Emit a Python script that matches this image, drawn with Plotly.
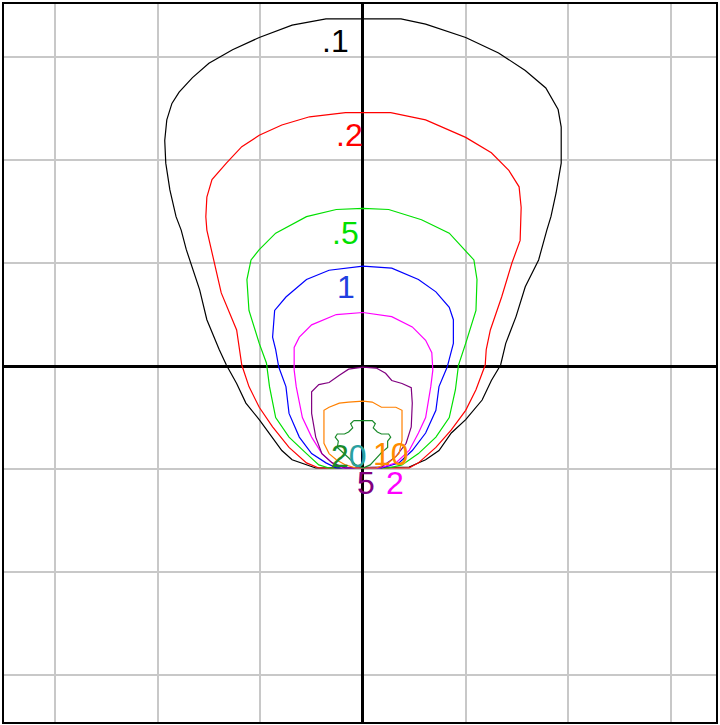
import plotly.graph_objects as go

# Contour levels, colours and label positions
levels = [".1", ".2", ".5", "1", "2", "5", "10", "20"]
colors = ["#000000", "#ff0000", "#00e000", "#0000ff", "#ff00ff", "#800080", "#ff8000", "#1a8a2a"]

c01_x = [-0.46, -0.55, -0.69, -0.79, -0.91, -1.01, -1.14, -1.23, -1.33, -1.40, -1.52, -1.59, -1.72, -1.77, -1.82, -1.88, -1.92, -1.93, -1.91, -1.86, -1.79, -1.66, -1.50, -1.27, -1.01, -0.69, -0.36, 0.37, 0.61, 1.00, 1.32, 1.58, 1.78, 1.90, 1.93, 1.93, 1.88, 1.83, 1.79, 1.71, 1.58, 1.49, 1.39, 1.34, 1.25, 1.16, 1.00, 0.86, 0.74, 0.61, 0.45, -0.46]
c01_y = [-0.99, -0.96, -0.91, -0.82, -0.65, -0.52, -0.36, -0.17, 0.01, 0.16, 0.45, 0.74, 1.13, 1.32, 1.45, 1.71, 1.97, 2.19, 2.39, 2.55, 2.66, 2.80, 2.94, 3.07, 3.19, 3.31, 3.37, 3.37, 3.32, 3.19, 3.04, 2.87, 2.70, 2.49, 2.32, 1.97, 1.68, 1.45, 1.32, 1.03, 0.77, 0.48, 0.22, 0.01, -0.14, -0.33, -0.52, -0.65, -0.82, -0.91, -0.98, -0.99]

c02_x = [-0.43, -0.55, -0.72, -0.88, -1.01, -1.11, -1.18, -1.20, -1.23, -1.38, -1.48, -1.52, -1.53, -1.52, -1.47, -1.33, -1.18, -1.01, -0.79, -0.52, -0.17, 0.27, 0.61, 1.00, 1.25, 1.42, 1.52, 1.54, 1.53, 1.45, 1.35, 1.24, 1.20, 1.19, 1.10, 1.00, 0.86, 0.71, 0.54, 0.45, -0.43]
c02_y = [-0.99, -0.94, -0.79, -0.59, -0.40, -0.20, 0.01, 0.16, 0.35, 0.71, 1.13, 1.32, 1.45, 1.64, 1.81, 1.97, 2.13, 2.24, 2.34, 2.42, 2.46, 2.46, 2.39, 2.22, 2.07, 1.90, 1.74, 1.54, 1.22, 1.00, 0.67, 0.35, 0.16, 0.01, -0.23, -0.43, -0.62, -0.79, -0.94, -0.99, -0.99]

c05_x = [-0.33, -0.43, -0.55, -0.72, -0.85, -0.91, -0.94, -1.01, -1.11, -1.13, -1.09, -1.01, -0.85, -0.55, -0.26, 0.00, 0.25, 0.57, 0.84, 0.93, 1.08, 1.11, 1.10, 1.00, 0.93, 0.90, 0.84, 0.71, 0.54, 0.38, 0.25, -0.33]
c05_y = [-0.99, -0.96, -0.85, -0.69, -0.50, -0.20, 0.03, 0.22, 0.54, 0.84, 1.03, 1.13, 1.29, 1.45, 1.52, 1.53, 1.52, 1.42, 1.29, 1.19, 1.03, 0.84, 0.54, 0.22, 0.01, -0.23, -0.50, -0.69, -0.85, -0.96, -0.99, -0.99]

c1_x = [-0.26, -0.36, -0.50, -0.62, -0.72, -0.75, -0.82, -0.85, -0.88, -0.86, -0.75, -0.55, -0.33, 0.00, 0.28, 0.54, 0.71, 0.84, 0.88, 0.88, 0.82, 0.74, 0.71, 0.61, 0.48, 0.35, 0.18, -0.26]
c1_y = [-0.99, -0.94, -0.85, -0.69, -0.46, -0.20, -0.01, 0.16, 0.28, 0.54, 0.67, 0.84, 0.93, 0.97, 0.95, 0.84, 0.72, 0.57, 0.45, 0.22, -0.01, -0.20, -0.43, -0.65, -0.82, -0.94, -0.99, -0.99]

c2_x = [-0.20, -0.30, -0.40, -0.50, -0.59, -0.65, -0.67, -0.67, -0.62, -0.50, -0.26, 0.00, 0.28, 0.48, 0.61, 0.67, 0.68, 0.66, 0.61, 0.54, 0.45, 0.32, 0.16, -0.20]
c2_y = [-0.99, -0.94, -0.85, -0.69, -0.50, -0.20, -0.04, 0.18, 0.28, 0.40, 0.50, 0.52, 0.48, 0.38, 0.25, 0.13, -0.04, -0.20, -0.50, -0.65, -0.82, -0.94, -0.99, -0.99]

c5_x = [-0.17, -0.30, -0.40, -0.46, -0.50, -0.50, -0.43, -0.33, -0.23, -0.14, 0.00, 0.13, 0.22, 0.28, 0.38, 0.47, 0.48, 0.47, 0.42, 0.32, 0.18, -0.17]
c5_y = [-0.99, -0.94, -0.85, -0.69, -0.46, -0.25, -0.18, -0.16, -0.09, -0.03, -0.01, -0.02, -0.07, -0.14, -0.17, -0.21, -0.36, -0.59, -0.75, -0.88, -0.98, -0.99]

c10_x = [-0.07, -0.17, -0.26, -0.33, -0.38, -0.38, -0.33, -0.23, -0.14, 0.00, 0.09, 0.18, 0.32, 0.38, 0.38, 0.35, 0.25, 0.13, -0.07]
c10_y = [-0.99, -0.96, -0.91, -0.85, -0.75, -0.43, -0.40, -0.36, -0.35, -0.34, -0.35, -0.40, -0.40, -0.43, -0.72, -0.85, -0.94, -0.99, -0.99]

c20_x = [-0.09, -0.12, -0.10, -0.14, -0.18, -0.25, -0.27, -0.24, -0.25, -0.19, -0.14, -0.07, 0.00, 0.07, 0.13, 0.18, 0.24, 0.24, 0.27, 0.25, 0.18, 0.14, 0.10, 0.12, 0.09, -0.09]
c20_y = [-0.53, -0.56, -0.60, -0.64, -0.66, -0.66, -0.69, -0.73, -0.79, -0.84, -0.89, -0.96, -0.99, -0.96, -0.89, -0.84, -0.79, -0.73, -0.69, -0.66, -0.66, -0.64, -0.60, -0.56, -0.53, -0.53]

curves_x = [c01_x, c02_x, c05_x, c1_x, c2_x, c5_x, c10_x, c20_x]
curves_y = [c01_y, c02_y, c05_y, c1_y, c2_y, c5_y, c10_y, c20_y]

label_text = [".1", ".2", ".5", "1", "2", "5", "10", "2<span style='color:#2aa0a0'>0</span>"]
label_x = [-0.27, -0.13, -0.17, -0.17, 0.31, 0.03, 0.27, -0.14]
label_y = [3.16, 2.25, 1.30, 0.77, -1.13, -1.13, -0.85, -0.87]
label_colors = ["#000000", "#ff0000", "#00e000", "#2040e0", "#ff00ff", "#800080", "#ff8c00", "#1a8a2a"]

fig = go.Figure()
for cx, cy, col, lev in zip(curves_x, curves_y, colors, levels):
    fig.add_trace(go.Scatter(x=cx, y=cy, mode="lines", name=lev,
                             line=dict(color=col, width=1.2), hoverinfo="skip"))

for t, lx, ly, lc in zip(label_text, label_x, label_y, label_colors):
    fig.add_annotation(x=lx, y=ly, text=t, showarrow=False, height=25,
                       font=dict(family="Arial, Liberation Sans, sans-serif", size=32, color=lc),
                       xanchor="center", yanchor="middle", valign="middle")

axis_common = dict(
    dtick=1, tick0=0, showgrid=True, gridcolor="#c8c8c8", gridwidth=2,
    zeroline=True, zerolinecolor="#000000", zerolinewidth=3,
    showticklabels=False, ticks="", showline=True, linecolor="#000000",
    linewidth=2, mirror=True, fixedrange=True,
)
fig.update_xaxes(range=[-3.495, 3.437], **axis_common)
fig.update_yaxes(range=[-3.456, 3.515], **axis_common)

fig.update_layout(
    width=720, height=725,
    margin=dict(l=4, r=2, t=4, b=3),
    paper_bgcolor="white", plot_bgcolor="white",
    showlegend=False,
)
fig.write_html("out.html", config={"displayModeBar": False},
               post_script="document.body.style.margin='0';document.body.style.overflow='hidden';")
